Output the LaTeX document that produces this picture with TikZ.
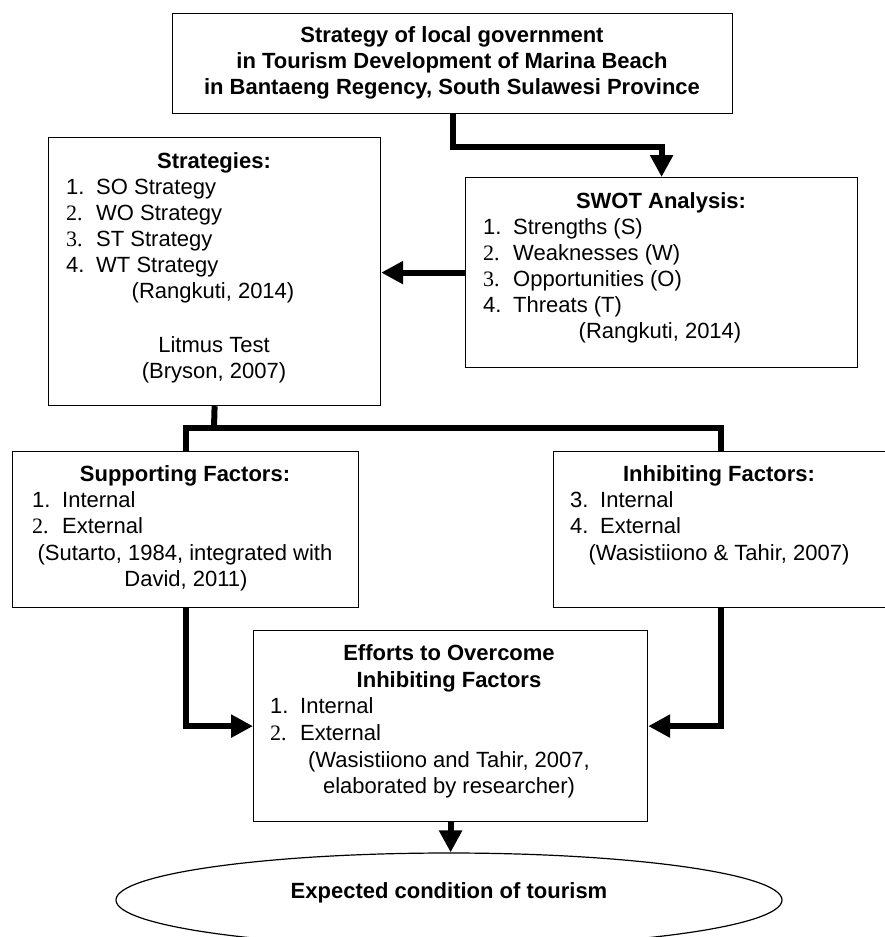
\documentclass[tikz,border=0pt]{standalone}
\usepackage{fontspec}
\setmainfont{Liberation Sans}
\newfontfamily\tnr{Liberation Serif}
\usetikzlibrary{arrows.meta,shapes.geometric}
\newcommand{\litem}[2]{\makebox[30pt][l]{#1}#2}
\tikzset{
  box/.style={draw, line width=1.2pt, inner sep=0pt, anchor=north west},
  lbl/.style={inner sep=0pt, anchor=base west, font=\fontsize{22}{26}\selectfont},
  clbl/.style={inner sep=0pt, anchor=base, font=\fontsize{22}{26}\selectfont},
  blbl/.style={inner sep=0pt, anchor=base, font=\fontsize{22}{26}\selectfont\bfseries},
  conn/.style={line width=6pt, line join=miter},
  arr/.style={line width=6pt, line join=miter, -{Triangle[length=22pt,width=22pt]}},
}
\begin{document}
\begin{tikzpicture}[x=1pt,y=-1pt]
\useasboundingbox (0,0) rectangle (885,937);
\clip (0,0) rectangle (885,937);
\fill[white] (0,0) rectangle (885,937);

% boxes
\node[box, minimum width=560pt, minimum height=100pt] (top) at (172,13) {};
\node[box, minimum width=332pt, minimum height=268pt] (strat) at (48,137) {};
\node[box, minimum width=392pt, minimum height=190pt] (swot) at (465,177) {};
\node[box, minimum width=346pt, minimum height=156pt] (supp) at (12,451) {};
\node[box, minimum width=334pt, minimum height=156pt] (inh) at (553,451) {};
\node[box, minimum width=394pt, minimum height=191pt] (eff) at (253,630) {};
\node[draw, line width=1.2pt, ellipse, inner sep=0pt, minimum width=666pt, minimum height=94pt] (ell) at (449,900) {};

% top box text
\node[blbl] (tt1) at (452,42) {Strategy of local government};
\node[blbl] (tt2) at (452,68) {in Tourism Development of Marina Beach};
\node[blbl] (tt3) at (452,94) {in Bantaeng Regency, South Sulawesi Province};

% strategies
\node[blbl] (s0) at (214,168) {Strategies:};
\node[lbl] (s1) at (66,194) {\litem{1.}{SO Strategy}};
\node[lbl] (s2) at (66,220) {\litem{\tnr 2.}{WO Strategy}};
\node[lbl] (s3) at (66,246) {\litem{\tnr 3.}{ST Strategy}};
\node[lbl] (s4) at (66,272) {\litem{4.}{WT Strategy}};
\node[clbl] (s5) at (213,298) {(Rangkuti, 2014)};
\node[clbl] (s6) at (214,352) {Litmus Test};
\node[clbl] (s7) at (214,378) {(Bryson, 2007)};

% swot
\node[blbl] (w0) at (661,208) {SWOT Analysis:};
\node[lbl] (w1) at (483,234) {\litem{1.}{Strengths (S)}};
\node[lbl] (w2) at (483,260) {\litem{\tnr 2.}{Weaknesses (W)}};
\node[lbl] (w3) at (483,286) {\litem{\tnr 3.}{Opportunities (O)}};
\node[lbl] (w4) at (483,312) {\litem{4.}{Threats (T)}};
\node[clbl] (w5) at (660,338) {(Rangkuti, 2014)};

% supporting
\node[blbl] (p0) at (185,481) {Supporting Factors:};
\node[lbl] (p1) at (32,507) {\litem{1.}{Internal}};
\node[lbl] (p2) at (32,533) {\litem{\tnr 2.}{External}};
\node[clbl] (p3) at (185,560) {(Sutarto, 1984, integrated with};
\node[clbl] (p4) at (186,586) {David, 2011)};

% inhibiting
\node[blbl] (i0) at (719,481) {Inhibiting Factors:};
\node[lbl] (i1) at (570,507) {\litem{3.}{Internal}};
\node[lbl] (i2) at (570,533) {\litem{4.}{External}};
\node[clbl] (i3) at (719,560) {(Wasistiiono \& Tahir, 2007)};

% efforts
\node[blbl] (e0) at (449,660) {Efforts to Overcome};
\node[blbl] (e1) at (449,687) {Inhibiting Factors};
\node[lbl] (e2) at (270,713) {\litem{1.}{Internal}};
\node[lbl] (e3) at (270,740) {\litem{\tnr 2.}{External}};
\node[clbl] (e4) at (449,767) {(Wasistiiono and Tahir, 2007,};
\node[clbl] (e5) at (449,793) {elaborated by researcher)};

% ellipse text
\node[blbl] (x0) at (449,898) {Expected condition of tourism};

% connectors
\coordinate (j) at (214,428);
\draw[arr] (top.south) -- ++(0,33) -| (swot.north);
\draw[arr] (swot.west) -- (strat.east |- swot.west);
\draw[conn] (strat.south) -- (j);
\draw[conn] (supp.north) |- (j) -| (inh.north);
\draw[arr] (supp.south) |- (eff.west);
\draw[arr] (inh.south) |- (eff.east);
\draw[arr] (eff.south) -- (eff.south |- ell.north);
\end{tikzpicture}
\end{document}
